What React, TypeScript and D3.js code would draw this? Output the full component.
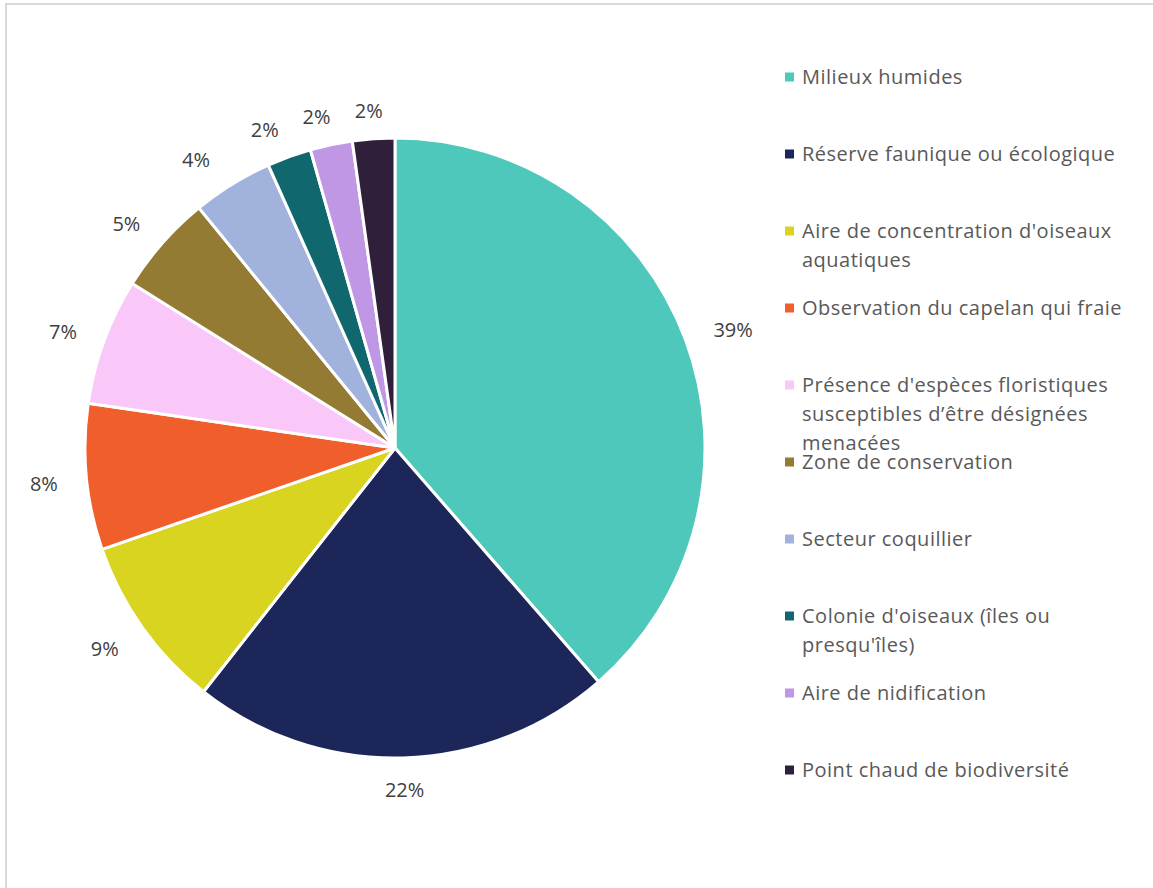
import React from "react";
import * as d3 from "d3";

const categories = [
  "Milieux humides",
  "Réserve faunique ou écologique",
  "Aire de concentration d'oiseaux\naquatiques",
  "Observation du capelan qui fraie",
  "Présence d'espèces floristiques\nsusceptibles d’être désignées\nmenacées",
  "Zone de conservation",
  "Secteur coquillier",
  "Colonie d'oiseaux (îles ou\npresqu'îles)",
  "Aire de nidification",
  "Point chaud de biodiversité",
];
const values = [38.6, 22.0, 9.1, 7.6, 6.6, 5.2, 4.2, 2.3, 2.2, 2.2];
const colors = [
  "#4EC8BA", "#1C2659", "#D9D41F", "#F05E2B", "#F9C8F9",
  "#937B33", "#A1B3DC", "#10676E", "#BF97E4", "#2F1F3B",
];

const W = 1153, H = 888;
const cx = 395, cy = 448, R = 310;
const FONT = "'Open Sans', Lato, sans-serif";
const FS = 20;

const clamp = (t: number) => Math.max(-1, Math.min(1, t));

export default function App() {
  const total = d3.sum(values);
  const pie = d3.pie<number>().sort(null).value((d) => d);
  const arcs = pie(values);
  const arcGen = d3.arc<d3.PieArcDatum<number>>().innerRadius(0).outerRadius(R);
  const legendY = d3.scaleLinear().domain([0, categories.length - 1]).range([77, 770]);

  return (
    <svg width={W} height={H} style={{ position: "absolute", left: 0, top: 0, background: "#fff" }}>
      <rect x={6} y={4} width={W + 10} height={H + 10} fill="#fff" stroke="#d9d9d9" strokeWidth={2} />
      <g transform={`translate(${cx},${cy})`}>
        {arcs.map((a, i) => (
          <path key={i} d={arcGen(a) || ""} fill={colors[i]} stroke="#fff" strokeWidth={3} strokeLinejoin="round" />
        ))}
        {arcs.map((a, i) => {
          const mid = (a.startAngle + a.endAngle) / 2;
          const s = Math.sin(mid), c = Math.cos(mid);
          const r0 = R + 26;
          const label = `${Math.round((values[i] / total) * 100)}%`;
          const hw = label.length * 6.8 + 3 + (c > 0.8 && s < 0 ? 6 : 0);
          const hh = c > 0 ? 6 : 2;
          const x = r0 * s + hw * clamp(s * 2);
          const y = -r0 * c - hh * clamp(c * 2) + 4;
          return (
            <text key={i} x={x} y={y} dy="0.35em" textAnchor="middle" fontFamily={FONT} fontSize={FS} fill="#404040">
              {label}
            </text>
          );
        })}
      </g>
      <g>
        {categories.map((cat, i) => {
          const y = legendY(i);
          const lines = cat.split("\n");
          return (
            <g key={i}>
              <rect x={785} y={y - 4.5} width={9} height={9} fill={colors[i]} />
              <text x={802} y={y} fontFamily={FONT} fontSize={FS} fill="#595959" letterSpacing={0.5}>
                {lines.map((l, j) => (
                  <tspan key={j} x={802} dy={j === 0 ? "0.35em" : 29}>{l}</tspan>
                ))}
              </text>
            </g>
          );
        })}
      </g>
    </svg>
  );
}
